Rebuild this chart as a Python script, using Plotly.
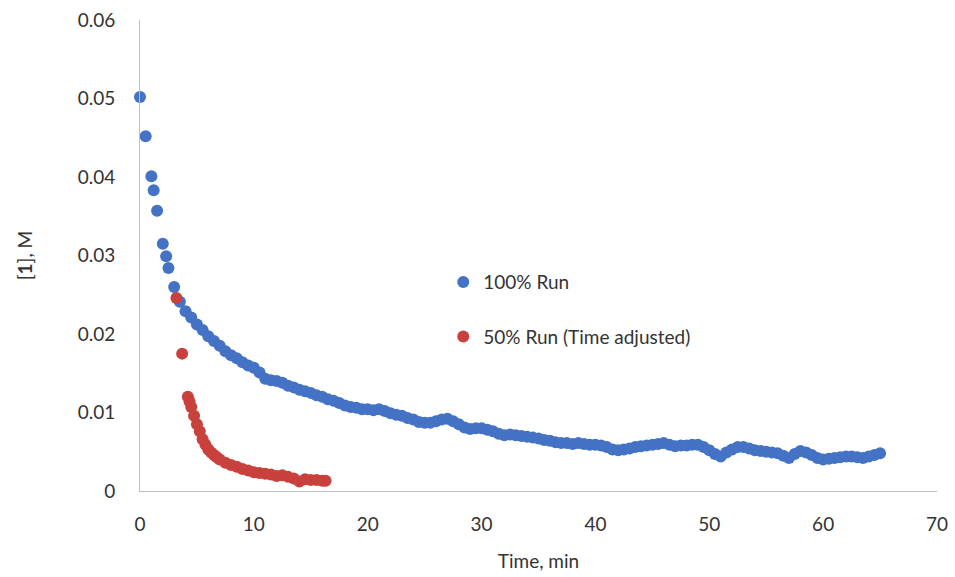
import plotly.graph_objects as go

# Concentration of [1] over time for the two runs
time_100 = [0.0, 0.5, 1.0, 1.2, 1.5, 2.0, 2.3, 2.5,
            3.0, 3.5, 4.0, 4.5, 5.0, 5.5, 6.0, 6.5, 7.0, 7.5, 8.0, 8.5, 9.0, 9.5,
            10.0, 10.5, 11.0, 11.5, 12.0, 12.5, 13.0, 13.5, 14.0, 14.5, 15.0, 15.5,
            16.0, 16.5, 17.0, 17.5, 18.0, 18.5, 19.0, 19.5, 20.0, 20.5, 21.0, 21.5,
            22.0, 22.5, 23.0, 23.5, 24.0, 24.5, 25.0, 25.5, 26.0, 26.5, 27.0, 27.5,
            28.0, 28.5, 29.0, 29.5, 30.0, 30.5, 31.0, 31.5, 32.0, 32.5, 33.0, 33.5,
            34.0, 34.5, 35.0, 35.5, 36.0, 36.5, 37.0, 37.5, 38.0, 38.5, 39.0, 39.5,
            40.0, 40.5, 41.0, 41.5, 42.0, 42.5, 43.0, 43.5, 44.0, 44.5, 45.0, 45.5,
            46.0, 46.5, 47.0, 47.5, 48.0, 48.5, 49.0, 49.5, 50.0, 50.5, 51.0, 51.5,
            52.0, 52.5, 53.0, 53.5, 54.0, 54.5, 55.0, 55.5, 56.0, 56.5, 57.0, 57.5,
            58.0, 58.5, 59.0, 59.5, 60.0, 60.5, 61.0, 61.5, 62.0, 62.5, 63.0, 63.5,
            64.0, 64.5, 65.0]
conc_100 = [0.0502, 0.0452, 0.0401, 0.0383, 0.0357, 0.0315, 0.0299, 0.0284,
            0.0260, 0.0241, 0.0229, 0.0221, 0.0212, 0.0205, 0.0197, 0.0191, 0.0185, 0.0178,
            0.0173, 0.0169, 0.0164, 0.0160, 0.0157, 0.0151, 0.0143, 0.0141, 0.0140, 0.0138,
            0.0134, 0.0132, 0.0129, 0.0127, 0.0125, 0.0122, 0.0120, 0.0117, 0.0115, 0.0112,
            0.0109, 0.0107, 0.0106, 0.0104, 0.0104, 0.0103, 0.0104, 0.0102, 0.0099, 0.0097,
            0.0096, 0.0093, 0.0091, 0.0088, 0.0087, 0.0087, 0.0089, 0.0091, 0.0092, 0.0089,
            0.0085, 0.0081, 0.0079, 0.0080, 0.0080, 0.0078, 0.0076, 0.0073, 0.0071, 0.0072,
            0.0071, 0.0070, 0.0069, 0.0068, 0.0067, 0.0065, 0.0064, 0.0062, 0.0061, 0.0061,
            0.0060, 0.0061, 0.0060, 0.0059, 0.0059, 0.0058, 0.0056, 0.0053, 0.0052, 0.0053,
            0.0054, 0.0056, 0.0057, 0.0058, 0.0059, 0.0060, 0.0061, 0.0059, 0.0057, 0.0058,
            0.0058, 0.0059, 0.0059, 0.0056, 0.0052, 0.0047, 0.0044, 0.0049, 0.0053, 0.0056,
            0.0056, 0.0054, 0.0052, 0.0051, 0.0050, 0.0049, 0.0048, 0.0045, 0.0042, 0.0047,
            0.0051, 0.0049, 0.0046, 0.0042, 0.0040, 0.0041, 0.0042, 0.0043, 0.0044, 0.0044,
            0.0043, 0.0042, 0.0044, 0.0046, 0.0048]

time_50 = [3.2, 3.7, 4.2, 4.35, 4.5, 4.75, 5.0, 5.25, 5.5, 5.75, 6.0, 6.25, 6.5,
           6.75, 7.0, 7.5, 8.0, 8.5, 9.0, 9.5, 10.0, 10.5, 11.0, 11.5, 12.0, 12.5,
           13.0, 13.5, 14.0, 14.5, 15.0, 15.5, 16.0, 16.3]
conc_50 = [0.0246, 0.0175, 0.0120, 0.0114, 0.0107, 0.0096, 0.0085, 0.0076, 0.0066,
           0.0059, 0.0053, 0.0049, 0.0046, 0.0043, 0.0040, 0.0036, 0.0033, 0.0031,
           0.0028, 0.0026, 0.0024, 0.0023, 0.0022, 0.0021, 0.0019, 0.0020, 0.0018,
           0.0016, 0.0012, 0.0015, 0.0014, 0.0014, 0.0013, 0.0013]

x_ticks = [0, 10, 20, 30, 40, 50, 60, 70]
y_ticks = [0, 0.01, 0.02, 0.03, 0.04, 0.05, 0.06]
y_tick_text = ["0", "0.01", "0.02", "0.03", "0.04", "0.05", "0.06"]

FONT = "Lato"
AXIS_GREY = "#BFBFBF"
TEXT = "#333333"

fig = go.Figure()
fig.add_trace(go.Scatter(
    x=time_100, y=conc_100, mode="markers", name="100% Run",
    legendgroup="a",
    marker=dict(size=12, color="#4472C4"),
    cliponaxis=False,
))
fig.add_trace(go.Scatter(
    x=time_50, y=conc_50, mode="markers", name="50% Run (Time adjusted)",
    legendgroup="b",
    marker=dict(size=12, color="#C9413C"),
    cliponaxis=False,
))

fig.update_layout(
    width=955, height=577,
    margin=dict(l=140, r=18, t=20, b=86),
    paper_bgcolor="white", plot_bgcolor="white",
    font=dict(family=FONT, size=19, color=TEXT),
    legend=dict(
        x=0.3805, y=0.484, xanchor="left", yanchor="top",
        traceorder="grouped", tracegroupgap=27,
        font=dict(family=FONT, size=19, color=TEXT),
        bgcolor="rgba(0,0,0,0)", itemsizing="constant",
        itemwidth=30,
    ),
    xaxis=dict(
        range=[0, 70], tickmode="array", tickvals=x_ticks,
        showline=True, linecolor=AXIS_GREY, linewidth=1,
        showgrid=False, zeroline=False, ticks="",
        ticklabelstandoff=16, automargin=False,
        title=dict(text="Time, min", font=dict(family=FONT, size=19, color=TEXT),
                   standoff=20),
    ),
    yaxis=dict(
        range=[0, 0.06], tickmode="array", tickvals=y_ticks, ticktext=y_tick_text,
        showline=True, linecolor=AXIS_GREY, linewidth=1,
        showgrid=False, zeroline=False, ticks="",
        ticklabelstandoff=20, automargin=False,
        title=dict(text="[<b>1</b>], M", font=dict(family=FONT, size=19, color=TEXT),
                   standoff=40),
    ),
)

fig.write_html("out.html")
